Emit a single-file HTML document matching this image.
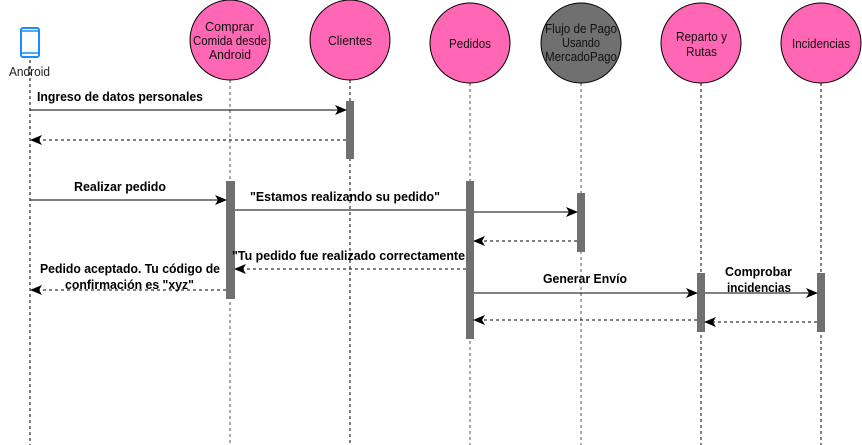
<!DOCTYPE html>
<html><head><meta charset="utf-8"><style>
html,body{margin:0;padding:0;background:#fff;}
svg{display:block;font-family:"Liberation Sans","DejaVu Sans",sans-serif;}
</style></head><body>
<svg width="862" height="445" viewBox="0 0 862 445" xmlns="http://www.w3.org/2000/svg">
<defs>
<marker id="a" markerWidth="12" markerHeight="12" refX="11" refY="6" orient="auto" markerUnits="userSpaceOnUse">
<path d="M0,1 L12,6 L0,11 L3,6 Z" fill="#000"/></marker>
</defs>
<g stroke="#000" stroke-width="1" stroke-dasharray="3,3" fill="none">
<line x1="30" y1="60" x2="30" y2="445"/>
<line x1="230" y1="80" x2="230" y2="445" stroke="#555"/>
<line x1="350" y1="80" x2="350" y2="445"/>
<line x1="470" y1="83" x2="470" y2="445" stroke="#555"/>
<line x1="581" y1="83" x2="581" y2="445" stroke="#555"/>
<line x1="701" y1="83" x2="701" y2="445"/>
<line x1="821" y1="83" x2="821" y2="445"/>
</g>
<rect x="21" y="28" width="18" height="29" rx="2" fill="none" stroke="#1a8cff" stroke-width="2"/>
<line x1="22" y1="31" x2="38" y2="31" stroke="#1a8cff" stroke-width="1.5"/>
<line x1="22" y1="53" x2="38" y2="53" stroke="#1a8cff" stroke-width="1.5"/>
<text x="9" y="76" font-size="13" textLength="41" lengthAdjust="spacingAndGlyphs" fill="#222">Android</text>
<g stroke="#000" stroke-width="1">
<circle cx="230" cy="40" r="40" fill="#ff66b3"/>
<circle cx="350" cy="40" r="40" fill="#ff66b3"/>
<circle cx="470" cy="43" r="40" fill="#ff66b3"/>
<circle cx="581" cy="43" r="40" fill="#707070"/>
<circle cx="701" cy="43" r="40" fill="#ff66b3"/>
<circle cx="821" cy="43" r="40" fill="#ff66b3"/>
</g>
<g font-size="13" fill="#111" lengthAdjust="spacingAndGlyphs">
<text x="205" y="31" textLength="49" lengthAdjust="spacingAndGlyphs">Comprar</text>
<text x="193" y="45" textLength="74" lengthAdjust="spacingAndGlyphs">Comida desde</text>
<text x="209" y="59" textLength="42" lengthAdjust="spacingAndGlyphs">Android</text>
<text x="328" y="45" textLength="44" lengthAdjust="spacingAndGlyphs">Clientes</text>
<text x="449" y="48" textLength="42" lengthAdjust="spacingAndGlyphs">Pedidos</text>
<text x="545" y="33" textLength="72" lengthAdjust="spacingAndGlyphs">Flujo de Pago</text>
<text x="562" y="47" textLength="38" lengthAdjust="spacingAndGlyphs">Usando</text>
<text x="545" y="61" textLength="72" lengthAdjust="spacingAndGlyphs">MercadoPago</text>
<text x="676" y="41" textLength="51" lengthAdjust="spacingAndGlyphs">Reparto y</text>
<text x="686" y="56" textLength="31" lengthAdjust="spacingAndGlyphs">Rutas</text>
<text x="792" y="48" textLength="58" lengthAdjust="spacingAndGlyphs">Incidencias</text>
</g>
<g fill="#707070">
<rect x="346" y="101" width="8" height="58"/>
<rect x="226" y="181" width="9" height="118"/>
<rect x="466" y="181" width="8" height="158"/>
<rect x="577" y="193" width="8" height="59"/>
<rect x="697" y="273" width="8" height="59"/>
<rect x="817" y="273" width="8" height="59"/>
</g>
<g stroke="#000" stroke-width="1" fill="none">
<line x1="30" y1="110" x2="346" y2="110" marker-end="url(#a)"/>
<line x1="346" y1="140" x2="31" y2="140" stroke-dasharray="3,3" marker-end="url(#a)"/>
<line x1="30" y1="200" x2="226" y2="200" marker-end="url(#a)"/>
<line x1="235" y1="210" x2="466" y2="210"/>
<line x1="474" y1="212" x2="577" y2="212" marker-end="url(#a)"/>
<line x1="577" y1="241" x2="474" y2="241" stroke-dasharray="3,3" marker-end="url(#a)"/>
<line x1="466" y1="269" x2="235" y2="269" stroke-dasharray="3,3" marker-end="url(#a)"/>
<line x1="226" y1="290" x2="31" y2="290" stroke-dasharray="3,3" marker-end="url(#a)"/>
<line x1="474" y1="293" x2="697" y2="293" marker-end="url(#a)"/>
<line x1="705" y1="293" x2="817" y2="293" marker-end="url(#a)"/>
<line x1="817" y1="322" x2="705" y2="322" stroke-dasharray="3,3" marker-end="url(#a)"/>
<line x1="697" y1="320" x2="474" y2="320" stroke-dasharray="3,3" marker-end="url(#a)"/>
</g>
<g font-size="13" font-weight="bold" fill="#000">
<text x="37" y="101" textLength="166" lengthAdjust="spacingAndGlyphs">Ingreso de datos personales</text>
<text x="74" y="191" textLength="92" lengthAdjust="spacingAndGlyphs">Realizar pedido</text>
<text x="250" y="201" textLength="190" lengthAdjust="spacingAndGlyphs">"Estamos realizando su pedido"</text>
<text x="232" y="260" textLength="233" lengthAdjust="spacingAndGlyphs">"Tu pedido fue realizado correctamente</text>
<text x="40" y="273" textLength="180" lengthAdjust="spacingAndGlyphs">Pedido aceptado. Tu código de</text>
<text x="65" y="289" textLength="129" lengthAdjust="spacingAndGlyphs">confirmación es "xyz"</text>
<text x="543" y="283" textLength="84" lengthAdjust="spacingAndGlyphs">Generar Envío</text>
<text x="725" y="276" textLength="67" lengthAdjust="spacingAndGlyphs">Comprobar</text>
<text x="727" y="292" textLength="64" lengthAdjust="spacingAndGlyphs">incidencias</text>
</g>
</svg>
</body></html>
